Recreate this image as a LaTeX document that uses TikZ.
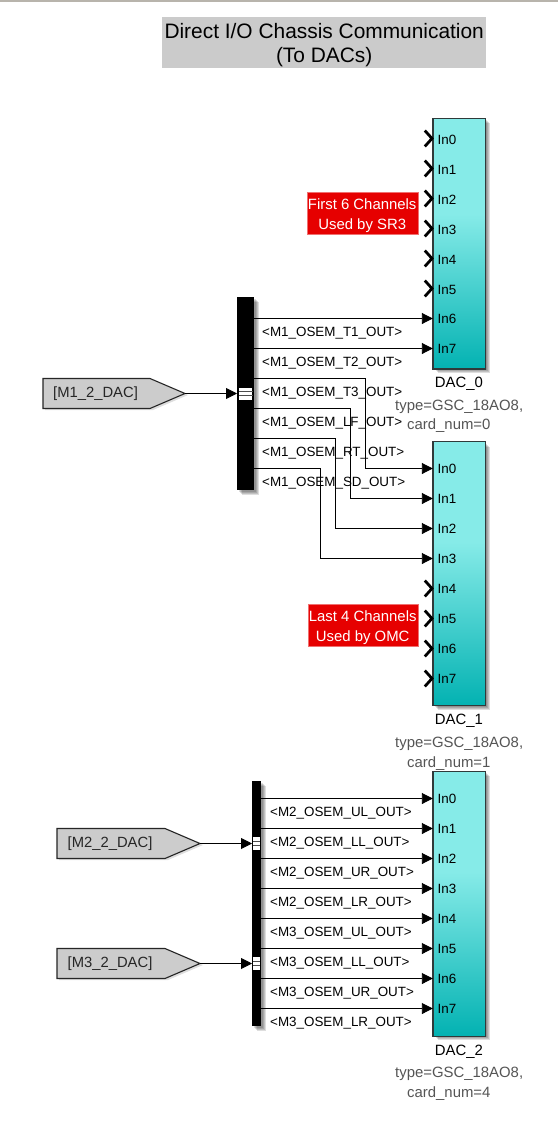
\documentclass[tikz,border=0pt]{standalone}
\usepackage{fontspec}
\setmainfont{Liberation Sans}
\usetikzlibrary{arrows.meta,calc}
\definecolor{daclight}{HTML}{86EBE8}
\definecolor{dacdark}{HTML}{03B2B2}
\definecolor{blockedge}{HTML}{2F3A3A}
\definecolor{gotofill}{HTML}{CCCCCC}
\definecolor{titlefill}{HTML}{CBCBCB}
\definecolor{redfill}{HTML}{E60000}
\definecolor{redline}{HTML}{F07070}
\definecolor{paramtext}{HTML}{555555}
\definecolor{topline}{HTML}{B8B4AC}
\pgfdeclareverticalshading{dacshade}{100bp}{color(0bp)=(dacdark); color(25bp)=(dacdark); color(56bp)=(daclight); color(75bp)=(daclight); color(100bp)=(daclight)}
\tikzset{
  x=1pt,y=-1pt,
  dacblock/.style={draw=blockedge,line width=1.1pt,shading=dacshade,minimum width=52.6pt,inner sep=0pt,anchor=north west},
  inlabel/.style={font=\fontsize{13.4}{16}\selectfont,anchor=west,inner sep=0pt,text height=10pt,text depth=3pt},
  siglabel/.style={font=\fontsize{13.4}{16}\selectfont,anchor=west,inner sep=0pt,text height=10pt,text depth=3pt},
  gotolabel/.style={font=\fontsize{14.8}{17}\selectfont,anchor=west,inner sep=0pt,text height=11pt,text depth=3pt,text=black!85},
  daclabel/.style={font=\fontsize{14.9}{17}\selectfont,inner sep=0pt,text height=11pt,text depth=3pt},
  paramlabel/.style={font=\fontsize{14.9}{17}\selectfont,inner sep=0pt,anchor=west,text=paramtext,text height=11pt,text depth=3pt},
  wire/.style={draw=black,line width=0.9pt},
  conn/.style={wire,-{Triangle[length=11pt,width=11pt]}},
  chevron/.style={draw=black,line width=2.8pt,line join=miter},
  bussbar/.style={fill=black,draw=none},
  portwhite/.style={fill=white,draw=none},
  portrule/.style={draw=black!70,line width=0.9pt},
  goto/.style={draw=black!85,line width=1.1pt,fill=gotofill,line join=miter},
  softshadow/.style={fill=black,draw=none,opacity=0.13},
  redbox/.style={text=white,font=\fontsize{14.9}{20}\selectfont,align=center,inner sep=0pt,minimum height=42pt,minimum width=110pt,anchor=north west},
  redpanel/.style={fill=redfill,draw=redline,line width=0.6pt},
  titlebox/.style={font=\fontsize{20.9}{24}\selectfont,align=center,inner sep=0pt,minimum width=324pt,minimum height=51pt,anchor=north west},
}
\newcommand{\softbox}[4]{%
  \fill[softshadow] (#1+1.5,#2+1.5) rectangle (#3+1.5,#4+1.5);
  \fill[softshadow] (#1+2.5,#2+2.5) rectangle (#3+2.5,#4+2.5);
  \fill[softshadow] (#1+3.5,#2+3.5) rectangle (#3+3.5,#4+3.5);
  \fill[softshadow] (#1+4.5,#2+4.5) rectangle (#3+4.5,#4+4.5);
}
\begin{document}
\begin{tikzpicture}
\useasboundingbox (0,0) rectangle (558,1137);
\fill[white] (0,0) rectangle (558,1137);
\fill[topline] (0,0) rectangle (558,2);

\fill[titlefill] (162,17) rectangle (486,68);
\node[titlebox] (title) at (162,19) {Direct I/O Chassis Communication\\(To DACs)};

% shadows
\softbox{433}{119}{485}{368}
\softbox{433}{442}{485}{705}
\softbox{433}{771}{485}{1035}
\softbox{237}{297}{254}{490}
\softbox{252}{781}{261}{1026}

% DAC blocks
\node[dacblock,minimum height=250pt] (dac0) at (432.4,118.4) {};
\node[dacblock,minimum height=264pt] (dac1) at (432.4,441) {};
\node[dacblock,minimum height=265pt] (dac2) at (432.4,770.5) {};

% ports
\foreach \i in {0,...,7} {
  \coordinate (d0p\i) at (432.8,138.5+30*\i);
  \coordinate (d1p\i) at (432.8,468.5+30*\i);
  \coordinate (d2p\i) at (432.8,798.5+30*\i);
  \node[inlabel] (d0l\i) at (437.5,141+29.9*\i) {In\i};
  \node[inlabel] (d1l\i) at (437.5,469.5+30*\i) {In\i};
  \node[inlabel] (d2l\i) at (437.5,799.5+30*\i) {In\i};
}
\foreach \i in {0,...,5}
  \draw[chevron] ($(d0p\i)+(-8,-8)$) -- ($(d0p\i)+(-0.8,0)$) -- ($(d0p\i)+(-8,8)$);
\foreach \i in {4,...,7}
  \draw[chevron] ($(d1p\i)+(-8,-8)$) -- ($(d1p\i)+(-0.8,0)$) -- ($(d1p\i)+(-8,8)$);

% block names
\node[daclabel] (n0) at (459,383) {DAC\_0};
\node[daclabel] (n1) at (459,720.5) {DAC\_1};
\node[daclabel] (n2) at (459,1051) {DAC\_2};
\node[paramlabel] (t0) at (395,406) {type=GSC\_18AO8,};
\node[paramlabel] (c0) at (407,425.5) {card\_num=0};
\node[paramlabel] (t1) at (395,743) {type=GSC\_18AO8,};
\node[paramlabel] (c1) at (407,763) {card\_num=1};
\node[paramlabel] (t2) at (395,1073) {type=GSC\_18AO8,};
\node[paramlabel] (c2) at (407,1093) {card\_num=4};

% red notes
\path[redpanel] (307,192.5) rectangle (418,234.5);
\path[redpanel] (308,604.5) rectangle (418,646.5);
\node[redbox,minimum width=110pt] (note0) at (307,194) {First 6 Channels\\Used by SR3};
\node[redbox,minimum width=109pt] (note1) at (308,606) {Last 4 Channels\\Used by OMC};

% M1 demux
\node[bussbar,minimum width=17pt,minimum height=193pt,inner sep=0pt,anchor=north west] (bus1) at (237,297) {};
\node[portwhite,minimum width=13.5pt,minimum height=12pt,inner sep=0pt] (bus1in) at (245.7,393.5) {};
\draw[portrule] (bus1in.west |- 0,391.5) -- (bus1in.east |- 0,391.5);
\draw[portrule] (bus1in.west |- 0,395.5) -- (bus1in.east |- 0,395.5);
\foreach \i in {0,...,5} \coordinate (b1o\i) at (254,318.5+30*\i);

\fill[softshadow] (45,380) -- (153,380) -- (188,395) -- (153,410) -- (45,410) -- cycle;
\draw[goto] (43,378.5) -- (150,378.5) -- (185,393.5) -- (150,408.5) -- (43,408.5) -- cycle;
\coordinate (g1tip) at (185,393.5);
\node[gotolabel] (g1) at (53,393) {[M1\_2\_DAC]};
\draw[conn] (g1tip) -- (bus1in.west -| bus1.west);

\draw[conn] (b1o0) -- (d0p6);
\draw[conn] (b1o1) -- (d0p7);
\draw[conn] (b1o2) -- ++(111.6,0) |- (d1p0);
\draw[conn] (b1o3) -- ++(96.6,0) |- (d1p1);
\draw[conn] (b1o4) -- ++(81.6,0) |- (d1p2);
\draw[conn] (b1o5) -- ++(66.6,0) |- (d1p3);

\node[siglabel] (s10) at (262,332.5) {<M1\_OSEM\_T1\_OUT>};
\node[siglabel] (s11) at (262,362.5) {<M1\_OSEM\_T2\_OUT>};
\node[siglabel] (s12) at (262,392.5) {<M1\_OSEM\_T3\_OUT>};
\node[siglabel] (s13) at (262,422.5) {<M1\_OSEM\_LF\_OUT>};
\node[siglabel] (s14) at (262,452.5) {<M1\_OSEM\_RT\_OUT>};
\node[siglabel] (s15) at (262,482.5) {<M1\_OSEM\_SD\_OUT>};

% M2/M3 demux
\node[bussbar,minimum width=9pt,minimum height=245pt,inner sep=0pt,anchor=north west] (bus2) at (252,781) {};
\node[portwhite,minimum width=7pt,minimum height=12.5pt,inner sep=0pt] (bus2a) at (256.5,843.5) {};
\node[portwhite,minimum width=7pt,minimum height=12.5pt,inner sep=0pt] (bus2b) at (256.5,963.5) {};
\draw[portrule] (bus2a.west |- 0,841.5) -- (bus2a.east |- 0,841.5);
\draw[portrule] (bus2a.west |- 0,845.5) -- (bus2a.east |- 0,845.5);
\draw[portrule] (bus2b.west |- 0,961.5) -- (bus2b.east |- 0,961.5);
\draw[portrule] (bus2b.west |- 0,965.5) -- (bus2b.east |- 0,965.5);
\foreach \i in {0,...,7} {
  \coordinate (b2o\i) at (261,798.5+30*\i);
  \draw[conn] (b2o\i) -- (d2p\i);
}

\fill[softshadow] (59,830) -- (168,830) -- (203,845) -- (168,860) -- (59,860) -- cycle;
\draw[goto] (57,828.5) -- (165,828.5) -- (200,843.5) -- (165,858.5) -- (57,858.5) -- cycle;
\coordinate (g2tip) at (200,843.5);
\node[gotolabel] (g2) at (67.5,843) {[M2\_2\_DAC]};
\draw[conn] (g2tip) -- (g2tip -| bus2.west);

\fill[softshadow] (59,950) -- (168,950) -- (203,965) -- (168,980) -- (59,980) -- cycle;
\draw[goto] (57,948.5) -- (165,948.5) -- (200,963.5) -- (165,978.5) -- (57,978.5) -- cycle;
\coordinate (g3tip) at (200,963.5);
\node[gotolabel] (g3) at (67.5,963) {[M3\_2\_DAC]};
\draw[conn] (g3tip) -- (g3tip -| bus2.west);

\node[siglabel] (s20) at (270,812.5) {<M2\_OSEM\_UL\_OUT>};
\node[siglabel] (s21) at (270,842.5) {<M2\_OSEM\_LL\_OUT>};
\node[siglabel] (s22) at (270,872.5) {<M2\_OSEM\_UR\_OUT>};
\node[siglabel] (s23) at (270,902.5) {<M2\_OSEM\_LR\_OUT>};
\node[siglabel] (s24) at (270,932.5) {<M3\_OSEM\_UL\_OUT>};
\node[siglabel] (s25) at (270,962.5) {<M3\_OSEM\_LL\_OUT>};
\node[siglabel] (s26) at (270,992.5) {<M3\_OSEM\_UR\_OUT>};
\node[siglabel] (s27) at (270,1022.5) {<M3\_OSEM\_LR\_OUT>};
\end{tikzpicture}
\end{document}
